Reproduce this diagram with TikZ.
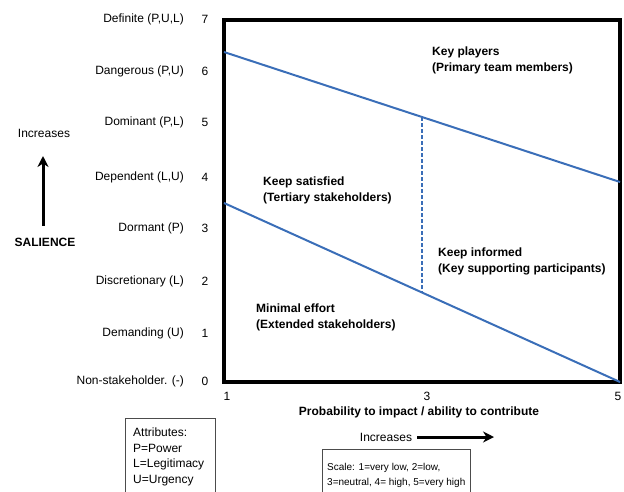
\documentclass[tikz,border=0pt]{standalone}
\usepackage{fontspec}
\setmainfont{Liberation Sans}
\usetikzlibrary{calc,arrows.meta}
\definecolor{lineblue}{RGB}{58,110,184}
\tikzset{
	lbl/.style={font=\fontsize{12}{14}\selectfont, inner sep=0pt},
	ylbl/.style={lbl, anchor=east},
	zone/.style={font=\fontsize{12}{16}\selectfont\bfseries, inner sep=0pt, align=left, anchor=west},
	boxtxt/.style={font=\fontsize{12}{15.6}\selectfont, inner sep=0pt, align=left, anchor=north west},
	frame/.style={line width=3.2pt, black},
	bound/.style={line width=2pt, lineblue},
	incarrow/.style={line width=3pt, -{Stealth[length=11pt,width=11pt]}},
	infobox/.style={line width=0.9pt, black!70}
}

\begin{document}
\begin{tikzpicture}[x=1pt,y=-1pt]
		%%%%% START %%%%%
		\useasboundingbox (0,0) rectangle (624,491);
		
		% plot frame
		\coordinate (nw) at (224,20);
		\coordinate (se) at (620,382);
		\draw[frame] (nw) rectangle (se);
		
		% boundary lines
		\coordinate (up1) at (224,52);
		\coordinate (up5) at (620,182);
		\coordinate (lo1) at (224,203);
		\coordinate (lo5) at (620,382);
		\draw[bound] (up1) -- (up5);
		\draw[bound] (lo1) -- (lo5);
		\draw[bound, dash pattern=on 4pt off 2pt] ($(up1)!0.5!(up5)$) -- ($(lo1)!0.5!(lo5)$);
		
		% zones
		\node[zone] (keyp) at (432,60) {Key players\\(Primary team members)};
		\node[zone] (keeps) at (263,190) {Keep satisfied\\(Tertiary stakeholders)};
		\node[zone] (keepi) at (438,261) {Keep informed\\(Key supporting participants)};
		\node[zone] (minim) at (256,317) {Minimal effort\\(Extended stakeholders)};
		
		% salience axis
		\foreach \y/\v/\t in {19/7/{Definite (P,U,L)}, 71/6/{Dangerous (P,U)}, 122/5/{Dominant (P,L)}, 177/4/{Dependent (L,U)}, 228/3/{Dormant (P)}, 281/2/{Discretionary (L)}, 333/1/{Demanding (U)}, 381/0/{Non-stakeholder. (-)}}{
			\node[ylbl] (sal-\v) at (184,\y) {\t};
			\node[lbl] (num-\v) at (205,\y) {\v};
		}
		
		\node[lbl] (yinc) at (44,133) {Increases};
		\node[lbl, font=\fontsize{12}{14}\selectfont\bfseries] (sal) at (45,242) {SALIENCE};
		\coordinate (ytip) at (43,156);
		\draw[incarrow] ([xshift=-2pt, yshift=12pt]sal.north) -- (ytip);
		
		% probability axis
		\node[lbl] (prob-1) at (227,396) {1};
		\node[lbl] (prob-3) at (427,396) {3};
		\node[lbl] (prob-5) at (618,396) {5};
		\node[lbl, font=\fontsize{12}{14}\selectfont\bfseries] (prob) at (419,412) {Probability to impact / ability to contribute};
		
		\node[lbl] (xinc) at (386,437) {Increases};
		\coordinate (xtip) at (494,437);
		\draw[incarrow] ([xshift=5pt]xinc.east) -- (xtip);
		
		% legends
		\draw[infobox] (125,418) rectangle (215,495);
		\node[boxtxt] (attr) at (133,427.7) {Attributes:\\P=Power\\L=Legitimacy\\U=Urgency};
		
		\draw[infobox] (322,449) rectangle (470,495);
		\node[boxtxt, font=\fontsize{10}{15}\selectfont] (scale) at (327,463.4) {Scale: 1=very low, 2=low,\\3=neutral, 4= high, 5=very high};
		
		%%%%% END %%%%%
	\end{tikzpicture}
\end{document}
